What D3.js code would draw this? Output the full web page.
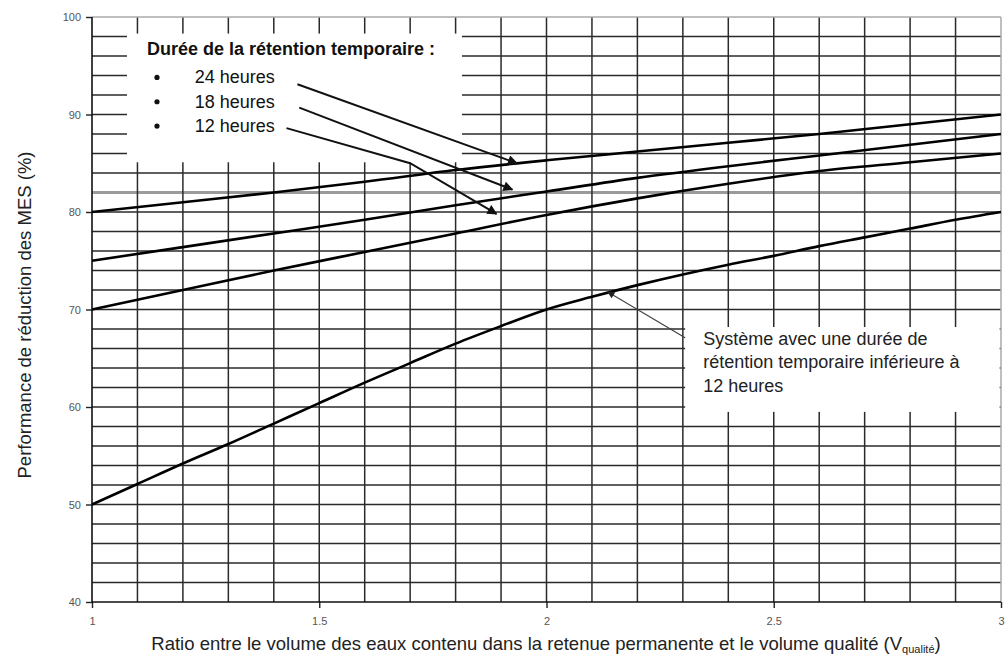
<!DOCTYPE html>
<html>
<head>
<meta charset="utf-8">
<script src="https://cdn.jsdelivr.net/npm/d3@7"></script>
<style>
  body { margin: 0; background: #fff; }
  text { font-family: "Liberation Sans", Arial, sans-serif; }
  .axis text { font-size: 11px; fill: #555; }
  .axis path { display: none; }
  .axis line { stroke: #222; stroke-width: 1.4; }
</style>
</head>
<body>
<svg width="1007" height="662"></svg>
<script>
// x values (ratio V_permanent / V_qualite) and read-off curve values
var ratio = [1, 1.2, 1.4, 1.6, 1.8, 2, 2.2, 2.4, 2.6, 2.8, 3];
var h24 = [80, 81, 82, 83.1, 84.3, 85.3, 86.2, 87.1, 88, 89, 90];
var h18 = [75, 76.4, 77.8, 79.2, 80.7, 82.1, 83.5, 84.7, 85.8, 86.9, 88];
var h12 = [70, 72, 74, 75.9, 77.8, 79.7, 81.4, 82.9, 84.2, 85.1, 86];

var ratioFine = [1, 1.1, 1.2, 1.3, 1.4, 1.5, 1.6, 1.7, 1.8, 1.9, 2, 2.1, 2.2, 2.3, 2.4, 2.5, 2.6, 2.7, 2.8, 2.9, 3];
var under12 = [50, 52.1, 54.2, 56.2, 58.3, 60.4, 62.5, 64.5, 66.5, 68.3, 70, 71.3, 72.5, 73.6, 74.6, 75.5, 76.5, 77.4, 78.3, 79.2, 80];

var xTicks = [1, 1.5, 2, 2.5, 3];
var yTicks = [40, 50, 60, 70, 80, 90, 100];

var legendTitle = "Durée de la rétention temporaire :";
var legendItems = ["24 heures", "18 heures", "12 heures"];
var noteLines = ["Système avec une durée de", "rétention temporaire inférieure à", "12 heures"];

// arrows in data units: [x, y] points, last one is the tip
var legendArrows = [
  [[1.452, 93.1], [1.935, 85.0]],
  [[1.456, 90.7], [1.925, 82.3]],
  [[1.428, 88.6], [1.70, 85.0], [1.89, 79.8]]
];
var noteArrow = [[2.305, 67.1], [2.135, 71.8]];

var svg = d3.select("svg"),
    margin = {top: 17, right: 6, bottom: 60, left: 92},
    width = +svg.attr("width") - margin.left - margin.right,
    height = +svg.attr("height") - margin.top - margin.bottom;

var x = d3.scaleLinear().domain([1, 3]).range([0, width]),
    y = d3.scaleLinear().domain([40, 100]).range([height, 0]);

var defs = svg.append("defs");
defs.append("marker")
    .attr("id", "head")
    .attr("viewBox", "0 0 10 10")
    .attr("refX", 9).attr("refY", 5)
    .attr("markerWidth", 6).attr("markerHeight", 5)
    .attr("markerUnits", "strokeWidth")
    .attr("orient", "auto")
  .append("path")
    .attr("d", "M0,0L10,5L0,10Z")
    .attr("fill", "#111");
defs.append("marker")
    .attr("id", "headSmall")
    .attr("viewBox", "0 0 10 10")
    .attr("refX", 9).attr("refY", 5)
    .attr("markerWidth", 7).attr("markerHeight", 6)
    .attr("markerUnits", "strokeWidth")
    .attr("orient", "auto")
  .append("path")
    .attr("d", "M0,0L10,5L0,10Z")
    .attr("fill", "#222");

var g = svg.append("g")
    .attr("transform", "translate(" + margin.left + "," + margin.top + ")");

// grid
g.append("g").selectAll("line")
    .data(d3.range(42, 100, 2))
  .enter().append("line")
    .attr("x1", 0).attr("x2", width)
    .attr("y1", function(d) { return y(d); })
    .attr("y2", function(d) { return y(d); })
    .attr("stroke", function(d) { return d === 82 ? "#9a9a9a" : "#2a2a2a"; })
    .attr("stroke-width", function(d) { return d === 82 ? 3 : 1.5; });

g.append("g").selectAll("line")
    .data(d3.range(11, 30).map(function(d) { return d / 10; }))
  .enter().append("line")
    .attr("y1", 0).attr("y2", height)
    .attr("x1", function(d) { return x(d); })
    .attr("x2", function(d) { return x(d); })
    .attr("stroke", "#2a2a2a")
    .attr("stroke-width", 1.5);

// frame: top and right light, left and bottom dark
g.append("line").attr("x1", 0).attr("x2", width).attr("y1", 0).attr("y2", 0)
    .attr("stroke", "#aaa").attr("stroke-width", 1.5);
g.append("line").attr("x1", width).attr("x2", width).attr("y1", 0).attr("y2", height)
    .attr("stroke", "#aaa").attr("stroke-width", 1.5);

// white boxes (legend and note)
g.append("rect")
    .attr("x", x(1.077)).attr("y", y(98.3))
    .attr("width", x(1.814) - x(1.077))
    .attr("height", y(85.1) - y(98.3))
    .attr("fill", "#fff");
g.append("rect")
    .attr("x", x(2.305)).attr("y", y(68.2))
    .attr("width", x(2.997) - x(2.305))
    .attr("height", y(59.5) - y(68.2))
    .attr("fill", "#fff");

// axes
g.append("g")
    .attr("class", "axis axis--x")
    .attr("transform", "translate(0," + height + ")")
    .call(d3.axisBottom(x).tickValues(xTicks).tickSize(6).tickPadding(9)
      .tickFormat(function(d) { return String(d); }));

g.append("g")
    .attr("class", "axis axis--y")
    .call(d3.axisLeft(y).tickValues(yTicks).tickSize(6).tickPadding(5));

g.append("line").attr("x1", 0).attr("x2", 0).attr("y1", 0).attr("y2", height)
    .attr("stroke", "#111").attr("stroke-width", 1.6);
g.append("line").attr("x1", 0).attr("x2", width).attr("y1", height).attr("y2", height)
    .attr("stroke", "#111").attr("stroke-width", 1.6);

// curves
var line = d3.line()
    .curve(d3.curveMonotoneX)
    .x(function(d) { return x(d[0]); })
    .y(function(d) { return y(d[1]); });

[h24, h18, h12].forEach(function(series) {
  g.append("path")
    .datum(d3.zip(ratio, series))
    .attr("fill", "none")
    .attr("stroke", "#000")
    .attr("stroke-width", 2.6)
    .attr("d", line);
});

g.append("path")
    .datum(d3.zip(ratioFine, under12))
    .attr("fill", "none")
    .attr("stroke", "#000")
    .attr("stroke-width", 2.6)
    .attr("d", line);

// legend arrows
var straight = d3.line()
    .x(function(d) { return x(d[0]); })
    .y(function(d) { return y(d[1]); });

g.selectAll(".legend-arrow")
    .data(legendArrows)
  .enter().append("path")
    .attr("class", "legend-arrow")
    .attr("fill", "none")
    .attr("stroke", "#111")
    .attr("stroke-width", 2)
    .attr("marker-end", "url(#head)")
    .attr("d", straight);

g.append("path")
    .datum(noteArrow)
    .attr("fill", "none")
    .attr("stroke", "#444")
    .attr("stroke-width", 1.2)
    .attr("marker-end", "url(#headSmall)")
    .attr("d", straight);

// legend text
g.append("text")
    .attr("x", x(1.121)).attr("y", y(96.1))
    .attr("font-size", 18).attr("font-weight", "bold").attr("fill", "#111")
    .text(legendTitle);

var items = g.selectAll(".legend-item")
    .data(legendItems)
  .enter().append("g")
    .attr("class", "legend-item")
    .attr("transform", function(d, i) { return "translate(0," + (y(93.8) + i * 24.3) + ")"; });

items.append("circle")
    .attr("cx", x(1.143)).attr("cy", 0)
    .attr("r", 2.6).attr("fill", "#111");
items.append("text")
    .attr("x", x(1.226)).attr("y", 6)
    .attr("font-size", 18).attr("fill", "#111")
    .text(function(d) { return d; });

// note text
g.selectAll(".note")
    .data(noteLines)
  .enter().append("text")
    .attr("class", "note")
    .attr("x", x(2.345))
    .attr("y", function(d, i) { return y(66.4) + i * 23.5; })
    .attr("font-size", 18).attr("fill", "#222")
    .text(function(d) { return d; });

// axis titles
svg.append("text")
    .attr("text-anchor", "middle")
    .attr("transform", "translate(31,315)rotate(-90)")
    .attr("font-size", 18.5).attr("fill", "#222")
    .text("Performance de réduction des MES (%)");

var xt = svg.append("text")
    .attr("text-anchor", "middle")
    .attr("x", 546)
    .attr("y", 650)
    .attr("font-size", 18.5).attr("fill", "#222");
xt.append("tspan").text("Ratio entre le volume des eaux contenu dans la retenue permanente et le volume qualité (V");
xt.append("tspan").attr("font-size", 11).attr("dy", 3).text("qualité");
xt.append("tspan").attr("dy", -3).text(")");
</script>
</body>
</html>
